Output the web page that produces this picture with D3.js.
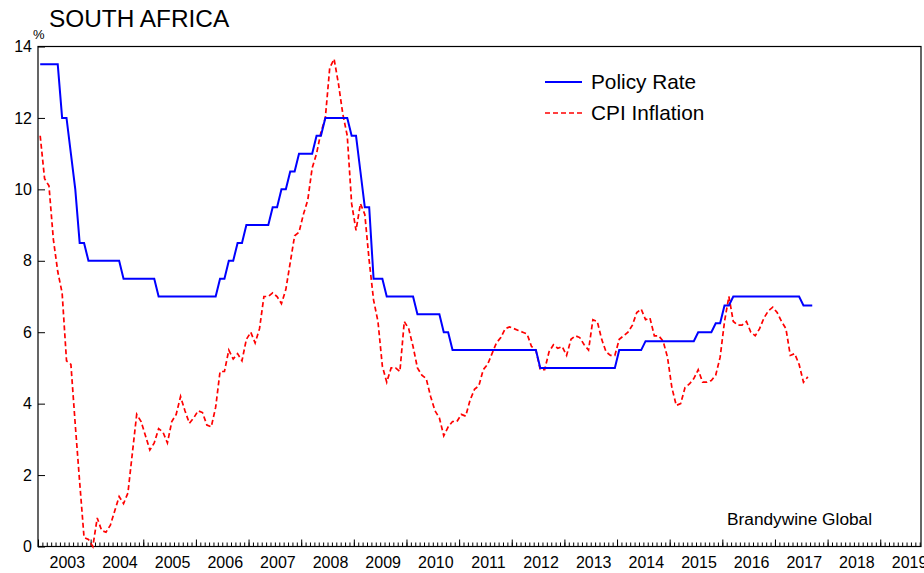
<!DOCTYPE html>
<html>
<head>
<meta charset="utf-8">
<script src="https://cdn.jsdelivr.net/npm/d3@7"></script>
<style>
  body { margin: 0; background: #fff; }
  svg { display: block; font-family: "Liberation Sans", Arial, sans-serif; }
</style>
</head>
<body>
<div id="chart"></div>
<script>
const width = 924;
const height = 573;

// monthly data, Jan 2003 onwards
const startYear = 2003;
const yearLabels = d3.range(2003, 2020);
const yTicks = [0, 2, 4, 6, 8, 10, 12, 14];

// policy rate, Jan 2003 - Sep 2017
const policyRate = [
  13.5, 13.5, 13.5, 13.5, 13.5, 12, 12, 11, 10, 8.5, 8.5, 8,
  8, 8, 8, 8, 8, 8, 8, 7.5, 7.5, 7.5, 7.5, 7.5,
  7.5, 7.5, 7.5, 7, 7, 7, 7, 7, 7, 7, 7, 7,
  7, 7, 7, 7, 7, 7.5, 7.5, 8, 8, 8.5, 8.5, 9,
  9, 9, 9, 9, 9, 9.5, 9.5, 10, 10, 10.5, 10.5, 11,
  11, 11, 11, 11.5, 11.5, 12, 12, 12, 12, 12, 12, 11.5,
  11.5, 10.5, 9.5, 9.5, 7.5, 7.5, 7.5, 7, 7, 7, 7, 7,
  7, 7, 6.5, 6.5, 6.5, 6.5, 6.5, 6.5, 6, 6, 5.5, 5.5,
  5.5, 5.5, 5.5, 5.5, 5.5, 5.5, 5.5, 5.5, 5.5, 5.5, 5.5, 5.5,
  5.5, 5.5, 5.5, 5.5, 5.5, 5.5, 5, 5, 5, 5, 5, 5,
  5, 5, 5, 5, 5, 5, 5, 5, 5, 5, 5, 5,
  5.5, 5.5, 5.5, 5.5, 5.5, 5.5, 5.75, 5.75, 5.75, 5.75, 5.75, 5.75,
  5.75, 5.75, 5.75, 5.75, 5.75, 5.75, 6, 6, 6, 6, 6.25, 6.25,
  6.75, 6.75, 7, 7, 7, 7, 7, 7, 7, 7, 7, 7,
  7, 7, 7, 7, 7, 7, 6.75, 6.75, 6.75
];

// CPI inflation, Jan 2003 - Aug 2017
const cpiInflation = [
  11.5, 10.3, 10.1, 8.6, 7.7, 7.1, 5.2, 5.1, 3.4, 1.8, 0.25, 0.2,
  0.0, 0.8, 0.45, 0.4, 0.6, 1.0, 1.4, 1.2, 1.5, 2.6, 3.7, 3.5,
  3.1, 2.7, 2.9, 3.3, 3.2, 2.9, 3.5, 3.7, 4.2, 3.8, 3.45, 3.6,
  3.8, 3.75, 3.4, 3.35, 3.9, 4.9, 4.9, 5.5, 5.25, 5.4, 5.2, 5.8,
  6.0, 5.7, 6.1, 7.0, 7.0, 7.1, 7.0, 6.8, 7.2, 7.95, 8.7, 8.8,
  9.3, 9.7, 10.6, 11.0, 11.6, 12.0, 13.4, 13.65, 12.95, 12.1, 11.5, 9.6,
  8.85, 9.6, 9.3, 8.0, 6.9, 6.3, 5.05, 4.6, 5.0, 5.0, 4.9, 6.3,
  6.1, 5.6, 5.0, 4.8, 4.7, 4.2, 3.8, 3.6, 3.1, 3.35, 3.5, 3.5,
  3.7, 3.65, 4.1, 4.4, 4.5, 4.95, 5.1, 5.4, 5.7, 5.85, 6.1, 6.15,
  6.1, 6.05, 6.0, 5.95, 5.6, 5.5, 4.95, 4.95, 5.45, 5.65, 5.55, 5.6,
  5.35, 5.8, 5.9, 5.85, 5.65, 5.5, 6.35, 6.3, 5.8, 5.45, 5.35, 5.35,
  5.8, 5.9, 6.0, 6.2, 6.55, 6.65, 6.35, 6.4, 5.9, 5.9, 5.75, 5.3,
  4.45, 3.95, 4.0, 4.45, 4.55, 4.7, 4.95, 4.6, 4.6, 4.65, 4.8, 5.3,
  6.3, 7.0, 6.3, 6.2, 6.2, 6.3, 6.0, 5.9, 6.1, 6.4, 6.6, 6.7,
  6.55, 6.3, 6.1, 5.35, 5.4, 5.1, 4.6, 4.75
];

const plotLeft = 38, plotRight = 921, plotTop = 46.5, plotBottom = 546.5;
const yearWidth = 52.64;

const svg = d3.select("#chart")
    .append("svg")
    .attr("width", width)
    .attr("height", height);

// x in fractional years, points at mid-month
const x = d3.scaleLinear()
    .domain([2003, 2020])
    .range([plotLeft, plotLeft + 17 * yearWidth]);

const y = d3.scaleLinear()
    .domain([0, 14])
    .range([plotBottom, plotTop]);

const monthPos = i => startYear + (i + 0.5) / 12;

// title
svg.append("text")
    .attr("x", 49)
    .attr("y", 27)
    .attr("font-size", 24.4)
    .text("SOUTH AFRICA");

// y axis
const yAxis = svg.append("g")
    .attr("transform", `translate(${plotLeft},0)`)
    .call(d3.axisLeft(y).tickValues(yTicks).tickSize(-7).tickPadding(6));
yAxis.select(".domain").remove();
yAxis.selectAll("text").attr("font-size", 16).attr("fill", "#000")
    .attr("font-family", "Liberation Sans, Arial, sans-serif");
yAxis.selectAll("line").attr("stroke", "#000");

svg.append("text")
    .attr("x", 33)
    .attr("y", 39)
    .attr("font-size", 13)
    .text("%");

// x axis: monthly minor ticks, yearly major ticks
const monthTicks = d3.range(0, 17 * 12).map(i => startYear + i / 12)
    .filter(v => x(v) <= plotRight);
const minor = svg.append("g")
    .attr("transform", `translate(0,${plotBottom})`)
    .call(d3.axisBottom(x).tickValues(monthTicks).tickSize(-4).tickFormat(""));
minor.select(".domain").remove();

const major = svg.append("g")
    .attr("transform", `translate(0,${plotBottom})`)
    .call(d3.axisBottom(x).tickValues(yearLabels.filter(v => x(v) <= plotRight)).tickSize(-7).tickFormat(""));
major.select(".domain").remove();

svg.selectAll(".year-label")
    .data(yearLabels)
    .join("text")
    .attr("class", "year-label")
    .attr("x", d => x(d + 0.5) + 3)
    .attr("y", 568)
    .attr("text-anchor", "middle")
    .attr("font-size", 16)
    .text(d => d);

// plot frame
svg.append("rect")
    .attr("x", plotLeft)
    .attr("y", plotTop)
    .attr("width", plotRight - plotLeft)
    .attr("height", plotBottom - plotTop)
    .attr("fill", "none")
    .attr("stroke", "#000")
    .attr("stroke-width", 1.2);

const line = d3.line()
    .x((d, i) => x(monthPos(i)))
    .y(d => y(d));

svg.append("path")
    .datum(cpiInflation)
    .attr("fill", "none")
    .attr("stroke", "#ff0000")
    .attr("stroke-width", 1.7)
    .attr("stroke-dasharray", "5,3")
    .attr("d", line);

svg.append("path")
    .datum(policyRate)
    .attr("fill", "none")
    .attr("stroke", "#0000ff")
    .attr("stroke-width", 2)
    .attr("d", line);

// legend
const legend = svg.append("g");
legend.append("line")
    .attr("x1", 545).attr("x2", 582).attr("y1", 82).attr("y2", 82)
    .attr("stroke", "#0000ff").attr("stroke-width", 2);
legend.append("text")
    .attr("x", 591).attr("y", 89)
    .attr("font-size", 20.8)
    .text("Policy Rate");
legend.append("line")
    .attr("x1", 545).attr("x2", 582).attr("y1", 113).attr("y2", 113)
    .attr("stroke", "#ff0000").attr("stroke-width", 1.7)
    .attr("stroke-dasharray", "5,3");
legend.append("text")
    .attr("x", 591).attr("y", 120)
    .attr("font-size", 20.8)
    .text("CPI Inflation");

svg.append("text")
    .attr("x", 727)
    .attr("y", 525)
    .attr("font-size", 17.3)
    .text("Brandywine Global");
</script>
</body>
</html>
